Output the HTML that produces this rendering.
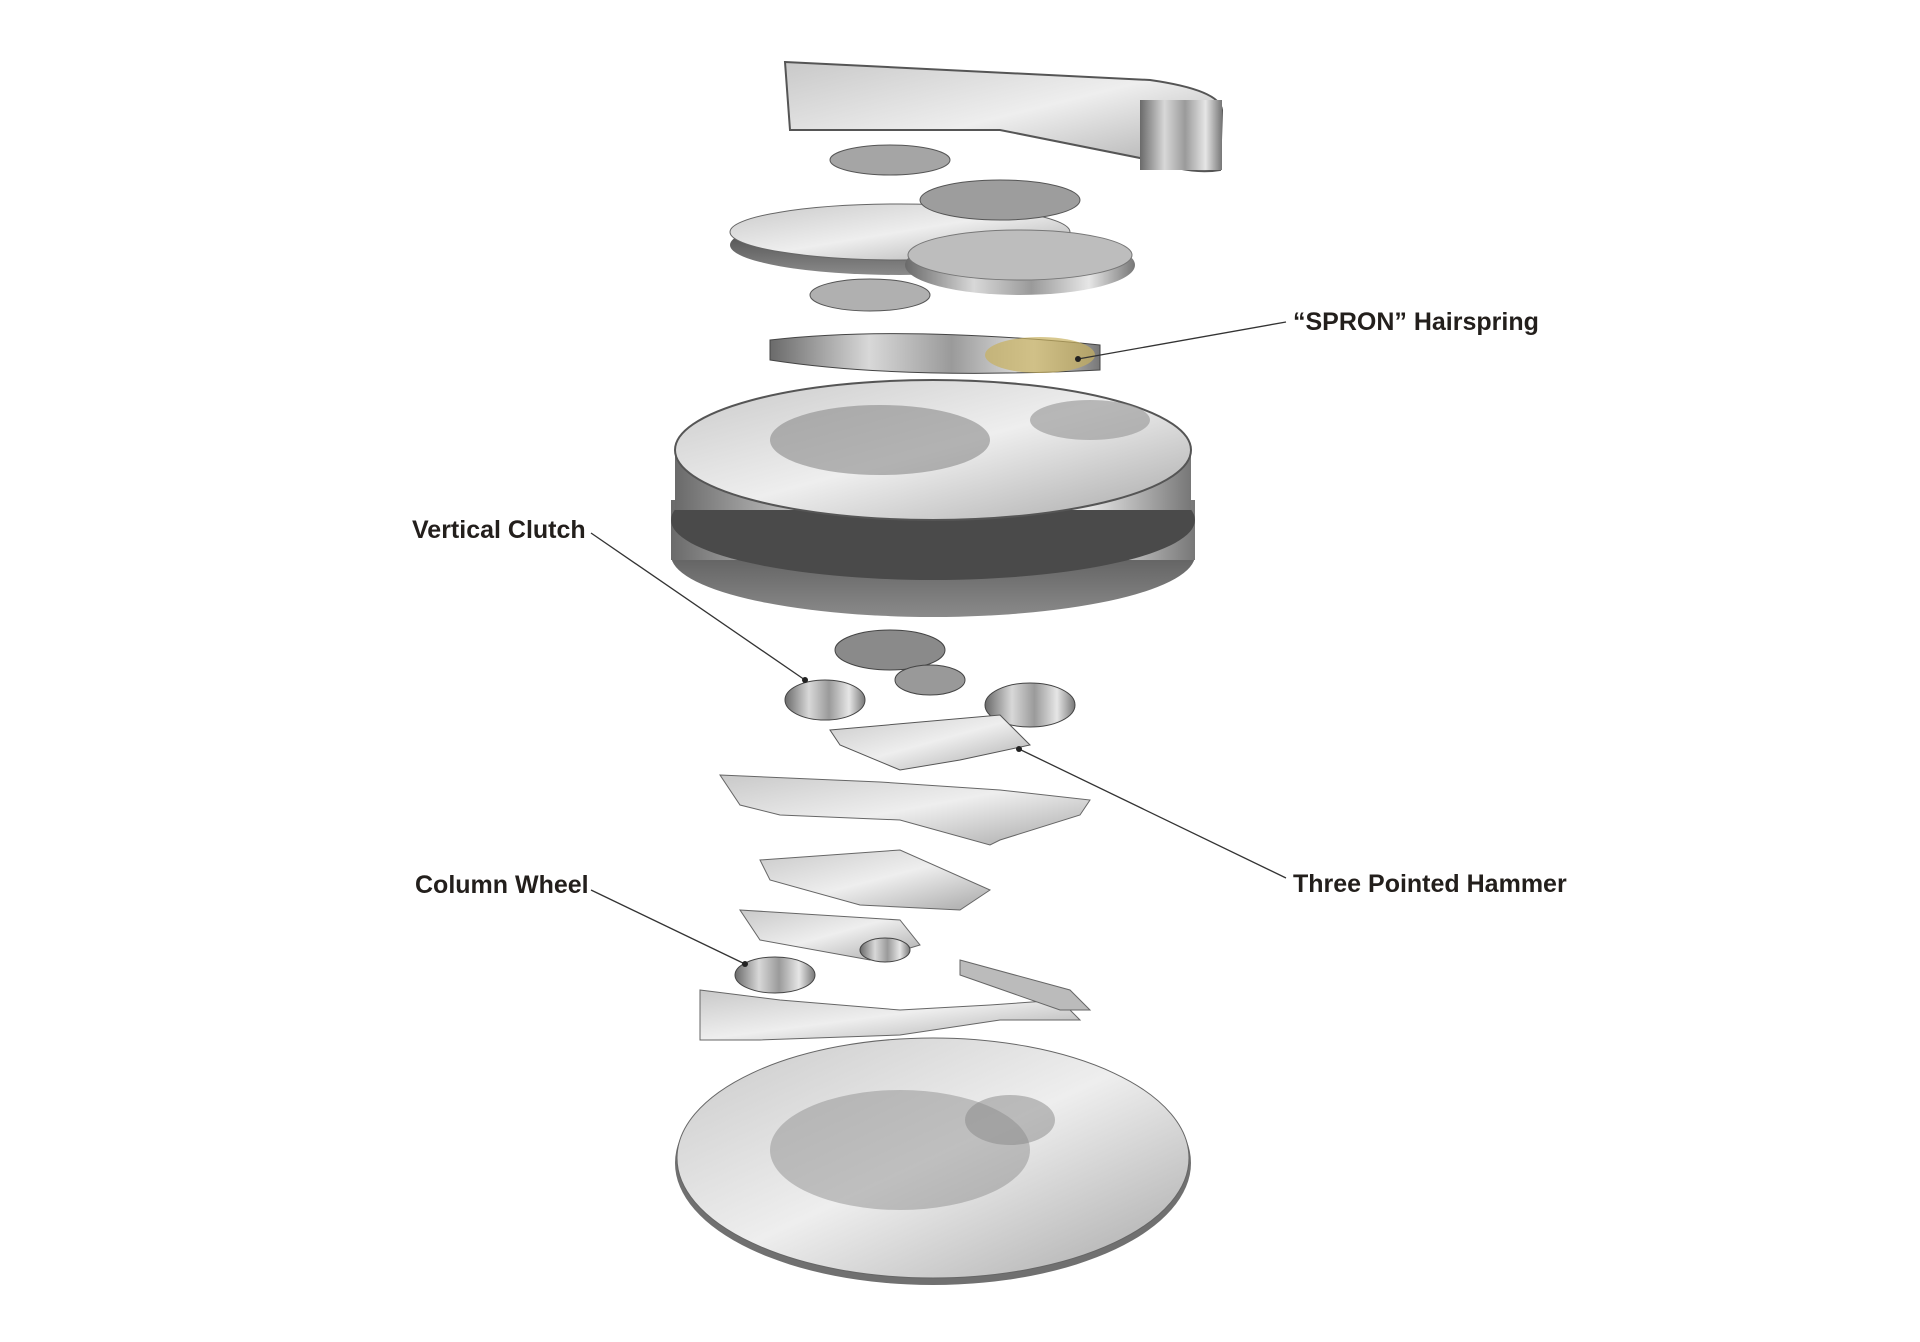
<!DOCTYPE html>
<html><head><meta charset="utf-8"><style>
html,body{margin:0;padding:0;background:#fff;}
svg{display:block}
text{font-family:"Liberation Sans",sans-serif;font-weight:bold;font-size:25px;fill:#231f1c;letter-spacing:0px}
</style></head><body>
<svg width="1920" height="1342" viewBox="0 0 1920 1342" xmlns="http://www.w3.org/2000/svg">
<defs>
<linearGradient id="m" x1="0" y1="0" x2="1" y2="0">
<stop offset="0" stop-color="#6a6a6a"/><stop offset="0.3" stop-color="#d8d8d8"/><stop offset="0.55" stop-color="#9a9a9a"/><stop offset="0.8" stop-color="#e6e6e6"/><stop offset="1" stop-color="#777"/></linearGradient>
<linearGradient id="t" x1="0" y1="0" x2="1" y2="1">
<stop offset="0" stop-color="#c9c9c9"/><stop offset="0.5" stop-color="#eeeeee"/><stop offset="1" stop-color="#a8a8a8"/></linearGradient>
<linearGradient id="d" x1="0" y1="0" x2="0" y2="1">
<stop offset="0" stop-color="#3a3a3a"/><stop offset="1" stop-color="#8a8a8a"/></linearGradient>
</defs>
<path d="M785 62 L1150 80 Q1220 90 1222 110 L1220 170 Q1190 175 1150 160 L1000 130 L790 130 Z" fill="url(#t)" stroke="#555" stroke-width="2"/>
<rect x="1140" y="100" width="82" height="70" fill="url(#m)"/>
<ellipse cx="900" cy="245" rx="170" ry="30" fill="url(#d)"/>
<ellipse cx="900" cy="232" rx="170" ry="28" fill="url(#t)" stroke="#666"/>
<ellipse cx="1020" cy="265" rx="115" ry="30" fill="url(#m)"/>
<ellipse cx="1020" cy="255" rx="112" ry="25" fill="#bdbdbd" stroke="#777"/>
<ellipse cx="1000" cy="200" rx="80" ry="20" fill="#9d9d9d" stroke="#555"/>
<ellipse cx="890" cy="160" rx="60" ry="15" fill="#a5a5a5" stroke="#555"/>
<ellipse cx="870" cy="295" rx="60" ry="16" fill="#b0b0b0" stroke="#555"/>
<path d="M770 340 Q900 325 1100 345 L1100 370 Q900 380 770 360 Z" fill="url(#m)" stroke="#444"/>
<ellipse cx="1040" cy="355" rx="55" ry="18" fill="#c8b060" opacity="0.7"/>
<ellipse cx="933" cy="555" rx="262" ry="62" fill="url(#d)"/>
<rect x="671" y="500" width="524" height="60" fill="url(#m)"/>
<ellipse cx="933" cy="520" rx="262" ry="60" fill="#4a4a4a"/>
<rect x="675" y="450" width="516" height="60" fill="url(#m)"/>
<ellipse cx="933" cy="450" rx="258" ry="70" fill="url(#t)" stroke="#555" stroke-width="2"/>
<ellipse cx="880" cy="440" rx="110" ry="35" fill="#8a8a8a" opacity="0.6"/>
<ellipse cx="1090" cy="420" rx="60" ry="20" fill="#a0a0a0" opacity="0.7"/>
<ellipse cx="890" cy="650" rx="55" ry="20" fill="#8a8a8a" stroke="#444"/>
<ellipse cx="825" cy="700" rx="40" ry="20" fill="url(#m)" stroke="#444"/>
<ellipse cx="1030" cy="705" rx="45" ry="22" fill="url(#m)" stroke="#444"/>
<ellipse cx="930" cy="680" rx="35" ry="15" fill="#999" stroke="#444"/>
<path d="M830 730 L1000 715 L1030 745 L960 760 L900 770 L840 745 Z" fill="url(#t)" stroke="#555"/>
<path d="M720 775 L880 782 L1000 790 L1090 800 L1080 815 L1000 840 L990 845 L900 820 L780 815 L740 805 Z" fill="url(#t)" stroke="#666"/>
<path d="M760 860 L900 850 L990 890 L960 910 L860 905 L770 880 Z" fill="url(#t)" stroke="#666"/>
<path d="M740 910 L900 920 L920 945 L870 960 L760 940 Z" fill="url(#t)" stroke="#666"/>
<ellipse cx="775" cy="975" rx="40" ry="18" fill="url(#m)" stroke="#444"/>
<ellipse cx="885" cy="950" rx="25" ry="12" fill="url(#m)" stroke="#444"/>
<path d="M700 990 L780 1000 L900 1010 L990 1005 L1060 1000 L1080 1020 L1000 1020 L900 1035 L760 1040 L700 1040 Z" fill="url(#t)" stroke="#666"/>
<path d="M960 960 L1070 990 L1090 1010 L1060 1010 L960 975 Z" fill="#bbb" stroke="#666"/>
<ellipse cx="933" cy="1163" rx="258" ry="122" fill="#707070"/>
<ellipse cx="933" cy="1158" rx="256" ry="120" fill="url(#t)" stroke="#666"/>
<ellipse cx="900" cy="1150" rx="130" ry="60" fill="#8f8f8f" opacity="0.5"/>
<ellipse cx="1010" cy="1120" rx="45" ry="25" fill="#888" opacity="0.5"/>
<g stroke="#333" stroke-width="1.3" fill="#222">
<line x1="1286" y1="322" x2="1078" y2="359"/><circle cx="1078" cy="359" r="3" stroke="none"/>
<line x1="591" y1="533" x2="805" y2="680"/><circle cx="805" cy="680" r="3" stroke="none"/>
<line x1="591" y1="890" x2="745" y2="964"/><circle cx="745" cy="964" r="3" stroke="none"/>
<line x1="1286" y1="878" x2="1019" y2="749"/><circle cx="1019" cy="749" r="3" stroke="none"/>
</g>
<text x="1293" y="330">“SPRON” Hairspring</text>
<text x="412" y="538">Vertical Clutch</text>
<text x="415" y="893">Column Wheel</text>
<text x="1293" y="892">Three Pointed Hammer</text>
</svg>
</body></html>
